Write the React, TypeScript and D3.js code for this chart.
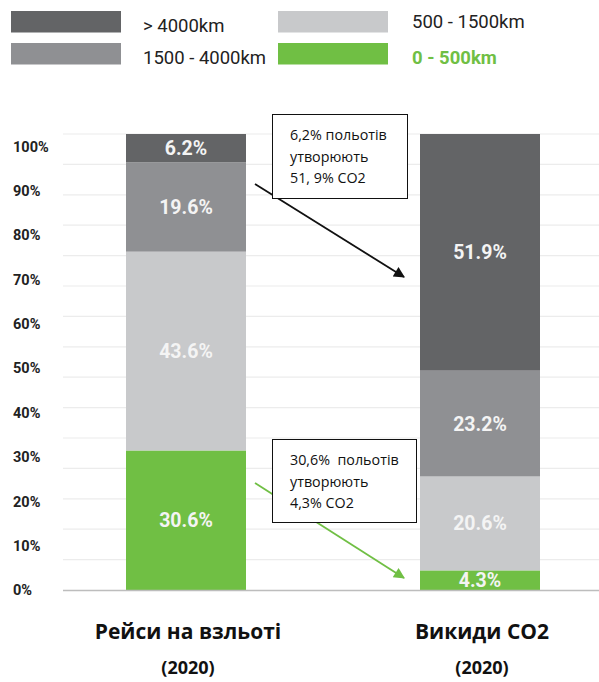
import React from "react";
import * as d3 from "d3";

// Distance bands, bottom to top of each stacked column
const bands = ["0 - 500km", "500 - 1500km", "1500 - 4000km", "> 4000km"];
const bandColors = ["#70bf44", "#c8c9cb", "#8f9093", "#636466"];

// Columns and their stacked shares (%), ordered like `bands`
const columns = ["Рейси на взльоті", "Викиди CO2"];
const columnYear = ["(2020)", "(2020)"];
const flightsShare = [30.6, 43.6, 19.6, 6.2];
const co2Share = [4.3, 20.6, 23.2, 51.9];

// Percent axis labels
const tickValues = [0, 10, 20, 30, 40, 50, 60, 70, 80, 90, 100];

// Callouts linking the two columns
const notes = [
  { lines: ["6,2% польотів", "утворюють", "51, 9% CO2"], color: "#111111" },
  { lines: ["30,6%  польотів", "утворюють", "4,3% CO2"], color: "#70bf44" },
];

const W = 599;
const H = 682;
const BAR_W = 120;

export default function App() {
  const x = d3.scalePoint<string>().domain(columns).range([186, 480]);
  const y = d3.scaleLinear().domain([0, 100]).range([590, 134]);
  const yLabel = d3.scaleLinear().domain([0, 100]).range([590, 146.5]);

  const stack = d3
    .stack<number[]>()
    .keys(bands.map((_, i) => String(i)))
    .value((d, k) => d[+k]);
  const series = stack([flightsShare, co2Share]);

  const gridValues = d3.range(0, 16).map((i) => (i * 100) / 15);

  // Legend layout: two rows, two columns
  const legendOrder = [3, 1, 2, 0];
  const legendPos = [
    { x: 11, y: 11 },
    { x: 278, y: 11 },
    { x: 11, y: 43 },
    { x: 278, y: 43 },
  ];

  const boxes = [
    { x: 272.5, y: 114.5, w: 135, h: 84, tx: 290, ty: 140, ax1: 255, ay1: 184, ax2: 404, ay2: 277 },
    { x: 272.5, y: 439.5, w: 144, h: 83, tx: 290, ty: 465, ax1: 255, ay1: 483, ax2: 404, ay2: 578 },
  ];

  return (
    <div style={{ position: "absolute", left: 0, top: 0 }}>
      <svg width={W} height={H} style={{ display: "block", background: "#ffffff" }}>
        <defs>
          {notes.map((n, i) => (
            <marker
              key={i}
              id={`head${i}`}
              viewBox="0 0 10 10"
              refX="9"
              refY="5"
              markerWidth="15"
              markerHeight="11"
              markerUnits="userSpaceOnUse"
              orient="auto"
            >
              <path d="M0,0 L10,5 L0,10 Z" fill={n.color} />
            </marker>
          ))}
        </defs>

        {/* legend */}
        {legendOrder.map((bi, i) => (
          <g key={bands[bi]} transform={`translate(${legendPos[i].x},${legendPos[i].y})`}>
            <rect width={110} height={21.5} fill={bandColors[bi]} />
            <text
              x={i % 2 === 0 ? 132 : 134}
              y={i === 1 ? 17 : 21}
              fontFamily="Roboto, sans-serif"
              fontSize={18.5}
              fontWeight={bi === 0 ? 700 : 400}
              fill={bi === 0 ? "#70bf44" : "#222222"}
            >
              {bands[bi]}
            </text>
          </g>
        ))}

        {/* gridlines */}
        {gridValues.slice(1).map((v) => (
          <line key={v} x1={63} x2={W} y1={y(v)} y2={y(v)} stroke="#ececec" strokeWidth={1.2} />
        ))}

        {/* percent labels */}
        {tickValues.map((v) => (
          <text
            key={v}
            x={13}
            y={yLabel(v)}
            dy="0.36em"
            fontFamily="Roboto, sans-serif"
            fontWeight={700}
            fontSize={14.5}
            fill="#222222"
          >
            {v}%
          </text>
        ))}

        {/* stacked columns */}
        {series.map((s, si) => (
          <g key={si}>
            {s.map((d, ci) => {
              const cx = x(columns[ci])!;
              const y0 = y(d[1]);
              const y1 = y(d[0]);
              const value = d[1] - d[0];
              return (
                <g key={ci}>
                  <rect x={cx - BAR_W / 2} y={y0} width={BAR_W} height={y1 - y0} fill={bandColors[si]} />
                  <text
                    x={cx}
                    y={(y0 + y1) / 2}
                    dy="0.36em"
                    textAnchor="middle"
                    fontFamily="Roboto, sans-serif"
                    fontWeight={700}
                    fontSize={19.5}
                    fill="#f4f4f4"
                  >
                    {value.toFixed(1)}%
                  </text>
                </g>
              );
            })}
          </g>
        ))}

        {/* baseline */}
        <line x1={63} x2={W} y1={y(0) + 0.5} y2={y(0) + 0.5} stroke="#bdbdbd" strokeWidth={1.5} />

        {/* callouts */}
        {notes.map((n, i) => {
          const b = boxes[i];
          return (
            <g key={i}>
              <line
                x1={b.ax1}
                y1={b.ay1}
                x2={b.ax2}
                y2={b.ay2}
                stroke={n.color}
                strokeWidth={1.8}
                markerEnd={`url(#head${i})`}
              />
              <rect x={b.x} y={b.y} width={b.w} height={b.h} fill="#ffffff" stroke="#111111" strokeWidth={1} />
              {n.lines.map((ln, li) => (
                <text
                  key={li}
                  x={b.tx}
                  y={b.ty + li * 21.5}
                  fontFamily="'Open Sans', sans-serif"
                  fontSize={14.3}
                  fill="#111111"
                  style={{ whiteSpace: "pre" }}
                >
                  {ln}
                </text>
              ))}
            </g>
          );
        })}

        {/* column titles */}
        {columns.map((c, i) => (
          <g key={c} transform={`translate(${x(c)! + 2},0)`}>
            <text
              y={639}
              textAnchor="middle"
              fontFamily="'Open Sans', sans-serif"
              fontWeight={700}
              fontSize={21}
              fill="#111111"
            >
              {c}
            </text>
            <text
              y={674}
              textAnchor="middle"
              fontFamily="'Open Sans', sans-serif"
              fontWeight={700}
              fontSize={18}
              fill="#111111"
            >
              {columnYear[i]}
            </text>
          </g>
        ))}
      </svg>
    </div>
  );
}
